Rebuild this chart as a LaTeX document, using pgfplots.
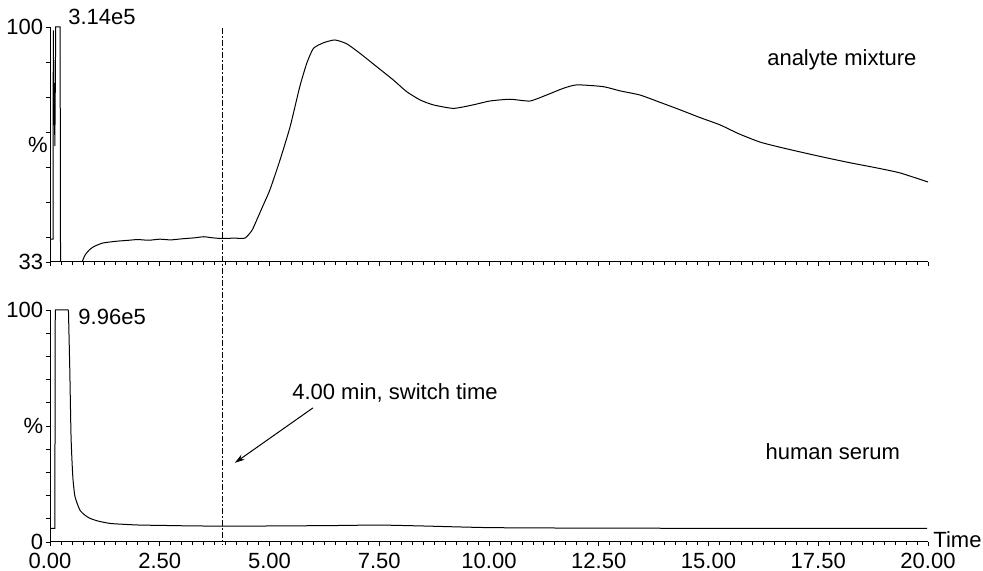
\documentclass[border=0pt]{standalone}
\usepackage{fontspec}
\setmainfont{Liberation Sans}
\usepackage{pgfplots}
\pgfplotsset{compat=1.18}
\usetikzlibrary{arrows.meta}

% analyte mixture: injection spike (time, %)
\pgfplotstableread{
t    y
0.00 39.5
0.07 39.5
0.075 99.0
0.09 72.0
0.10 84.0
0.11 66.0
0.12 82.0
0.13 100
0.23 100
0.24 33
0.73 33
}\analyteA

% analyte mixture: main trace (time, %)
\pgfplotstableread{
t    y
0.73 33
0.80 35.0
0.90 36.5
1.00 37.4
1.20 38.4
1.50 38.9
1.80 39.2
2.00 39.4
2.25 39.2
2.50 39.5
2.75 39.3
3.00 39.6
3.30 39.9
3.50 40.2
3.70 39.9
3.90 39.7
4.20 39.8
4.44 39.8
4.60 42.0
4.71 45.0
4.85 49.0
5.01 53.6
5.24 62.1
5.47 71.6
5.69 83.0
5.85 89.7
6.00 93.9
6.23 95.5
6.49 96.3
6.76 95.2
7.06 92.5
7.44 88.7
7.82 84.9
8.12 81.6
8.43 79.2
8.73 77.8
9.19 76.8
9.64 77.8
10.02 78.9
10.48 79.4
10.93 78.9
11.31 80.6
11.69 82.5
12.00 83.5
12.60 83.0
12.98 81.8
13.44 80.6
13.90 78.5
14.35 76.4
14.80 74.2
15.26 72.1
15.70 69.5
16.17 67.2
16.60 65.8
17.08 64.4
17.65 62.8
18.22 61.3
18.80 59.9
19.36 58.4
20.00 55.8
}\analyteB

% human serum: injection spike (time, %)
\pgfplotstableread{
t    y
0.00 5.9
0.11 5.9
0.12 100
0.42 100
}\serumA

% human serum: tail (time, %)
\pgfplotstableread{
t    y
0.42 100
0.45 75.0
0.48 45.0
0.52 28.0
0.57 19.5
0.68 13.8
0.80 11.5
0.91 10.2
1.10 9.0
1.37 8.0
1.70 7.6
2.05 7.3
2.70 7.1
3.42 6.9
5.00 6.9
6.50 7.1
7.50 7.3
8.50 6.9
10.00 6.2
12.00 6.0
15.00 5.9
19.98 5.9
}\serumB

\pgfplotsset{
  chrom/.style={
    scale only axis,
    width=439pt,
    xmin=0, xmax=20,
    axis x line=bottom, axis y line=left,
    axis line style={-, line width=0.5pt},
    tick align=outside,
    tick style={black, line width=0.4pt},
    major tick length=2.2pt,
    minor tick length=1.4pt,
    xtick={0,2.5,...,20},
    minor x tick num=9,
    ticklabel style={font=\fontsize{11}{13}\selectfont},
    /pgf/number format/assume math mode=true,
    yticklabel style={inner sep=1pt},
    clip mode=individual,
  },
}
\tikzset{
  trace/.style={black, line width=0.5pt},
  lab/.style={anchor=west, font=\fontsize{11}{13}\selectfont, inner sep=0pt},
}

\begin{document}
\begin{tikzpicture}
\useasboundingbox (-25pt,-14.5pt) rectangle (466.5pt,271pt);

\begin{axis}[chrom,
  at={(0,140pt)}, anchor=south west,
  height=117.5pt,
  ymin=33, ymax=100,
  ytick={33,40,50,60,70,80,90,100},
  yticklabels={33,,,,,,,100},
  extra y ticks={66.4},
  extra y tick labels={\%},
  extra y tick style={major tick length=0pt},
  xticklabels={},
]
\addplot[trace] table[x=t,y=y] {\analyteA};
\addplot[trace, smooth, tension=0.35] table[x=t,y=y] {\analyteB};
\coordinate (vt) at (axis cs:3.94,99.7);
\node[lab] at (axis cs:0.41,102.8) {3.14e5};
\node[lab] at (axis cs:16.33,90.6) {analyte mixture};
\end{axis}

\begin{axis}[chrom,
  at={(0,0)}, anchor=south west,
  height=116pt,
  ymin=0, ymax=100,
  ytick={0,10,...,100},
  yticklabels={0,,,,,\%,,,,,100},
  xticklabel style={/pgf/number format/.cd, fixed, fixed zerofill, precision=2},
]
\addplot[trace] table[x=t,y=y] {\serumA};
\addplot[trace, smooth, tension=0.35] table[x=t,y=y] {\serumB};
\coordinate (vb) at (axis cs:3.94,-1.2);
\node[lab] at (axis cs:0.64,97.1) {9.96e5};
\node[lab] at (axis cs:16.29,38.9) {human serum};
\node[lab] at (axis cs:5.51,64.2) {4.00 min, switch time};
\draw[-{Stealth[length=5pt,width=3pt]}, line width=0.5pt] (axis cs:5.99,57.8) -- (axis cs:4.21,34.1);
\node[lab, anchor=base west, xshift=2.5pt, yshift=-3pt] at (rel axis cs:1,0) {Time};
\end{axis}

\draw[line width=0.5pt, dash pattern=on 3pt off 1.2pt on 0.6pt off 1.2pt] (vt) -- (vb);
\end{tikzpicture}
\end{document}
